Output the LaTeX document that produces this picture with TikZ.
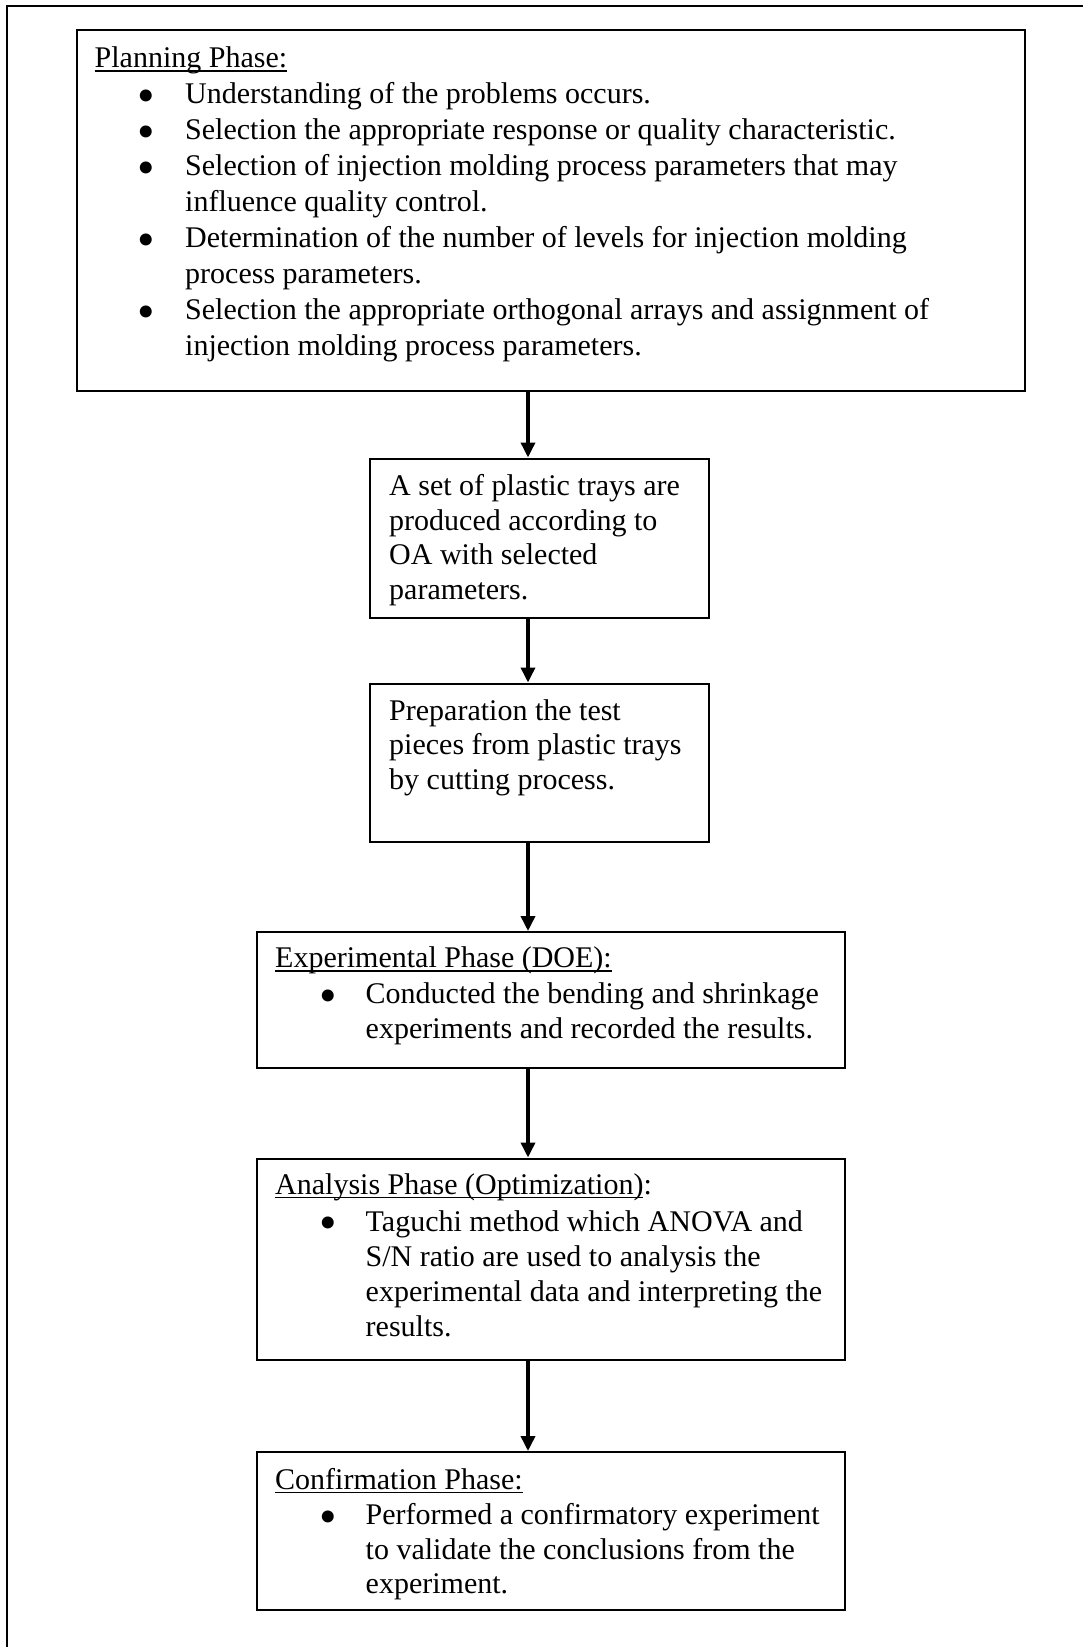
\documentclass[tikz,border=0pt]{standalone}
\usepackage{fontspec}
\setmainfont{Liberation Serif}
\usetikzlibrary{arrows.meta}
\newcommand\hdr[1]{\setbox0\hbox{#1}\rlap{\rule[-4pt]{\wd0}{1.4pt}}\box0}
\newcommand\mylines[1]{\begin{tabular}[t]{@{}l@{}}#1\end{tabular}}
\newcommand\mybul{\smash{\raisebox{-8.5pt}{•}}}
\begin{document}
\begin{tikzpicture}[x=1pt,y=-1pt,
  box/.style={draw, line width=2pt, inner sep=0pt, anchor=north west},
  txt/.style={anchor=base west, inner sep=0pt, font=\fontsize{30}{35}\selectfont},
  bul/.style={anchor=base, inner sep=0pt, font=\fontsize{50}{50}\selectfont},
  arr/.style={-{Triangle[length=15pt,width=14pt]}, line width=3.5pt},
  frame/.style={line width=2.5pt}]
\useasboundingbox (0,0) rectangle (1083,1647);
% outer frame
\coordinate (fa) at (7,1647);
\coordinate (fb) at (7,6);
\coordinate (fc) at (1083,6);
\draw[frame] (fa) -- (fb) -- (fc);
% boxes
\node[box, minimum width=948pt, minimum height=361pt] (plan) at (75.5,28.5) {};
\node[box, minimum width=339pt, minimum height=159pt] (b2) at (369,457.5) {};
\node[box, minimum width=339pt, minimum height=158pt] (b3) at (369,682.5) {};
\node[box, minimum width=587.5pt, minimum height=135.5pt] (b4) at (256,931) {};
\node[box, minimum width=587.5pt, minimum height=201.5pt] (b5) at (256,1157.5) {};
\node[box, minimum width=587.5pt, minimum height=158pt] (b6) at (256,1451) {};
% arrows
\coordinate (ax) at (528,0);
\draw[arr] (plan.south -| ax) -- (b2.north -| ax);
\draw[arr] (b2.south -| ax) -- (b3.north -| ax);
\draw[arr] (b3.south -| ax) -- (b4.north -| ax);
\draw[arr] (b4.south -| ax) -- (b5.north -| ax);
\draw[arr] (b5.south -| ax) -- (b6.north -| ax);
% planning phase text
\node[txt] (ph) at (94.5,67.5) {\hdr{Planning Phase:}};
\node[txt, font=\fontsize{30}{36}\selectfont] (pt) at (185,103.5) {\mylines{%
Understanding of the problems occurs.\\
Selection the appropriate response or quality characteristic.\\
Selection of injection molding process parameters that may\\
influence quality control.\\
Determination of the number of levels for injection molding\\
process parameters.\\
Selection the appropriate orthogonal arrays and assignment of\\
injection molding process parameters.}};
\node[bul] (pb1) at (146.5,103.5) {\mybul};
\node[bul] (pb2) at (146.5,139.5) {\mybul};
\node[bul] (pb3) at (146.5,175.5) {\mybul};
\node[bul] (pb4) at (146.5,247.5) {\mybul};
\node[bul] (pb5) at (146.5,319.5) {\mybul};
% box 2
\node[txt, font=\fontsize{30}{34.5}\selectfont] (t2) at (389,495.5) {\mylines{%
A set of plastic trays are\\
produced according to\\
OA with selected\\
parameters.}};
% box 3
\node[txt, font=\fontsize{30}{34.5}\selectfont] (t3) at (389,720) {\mylines{%
Preparation the test\\
pieces from plastic trays\\
by cutting process.}};
% box 4
\node[txt] (h4) at (275,967.5) {\hdr{Experimental Phase (DOE):}};
\node[txt] (t4) at (365.5,1003.5) {\mylines{%
Conducted the bending and shrinkage\\
experiments and recorded the results.}};
\node[bul] (bb4) at (328,1003.5) {\mybul};
% box 5
\node[txt] (h5) at (275,1194) {\hdr{Analysis Phase (Optimization)}:};
\node[txt] (t5) at (365.5,1231) {\mylines{%
Taguchi method which ANOVA and\\
S/N ratio are used to analysis the\\
experimental data and interpreting the\\
results.}};
\node[bul] (bb5) at (328,1231) {\mybul};
% box 6
\node[txt] (h6) at (275,1489) {\hdr{Confirmation Phase:}};
\node[txt, font=\fontsize{30}{34.5}\selectfont] (t6) at (365.5,1524.5) {\mylines{%
Performed a confirmatory experiment\\
to validate the conclusions from the\\
experiment.}};
\node[bul] (bb6) at (328,1524.5) {\mybul};
\end{tikzpicture}
\end{document}
